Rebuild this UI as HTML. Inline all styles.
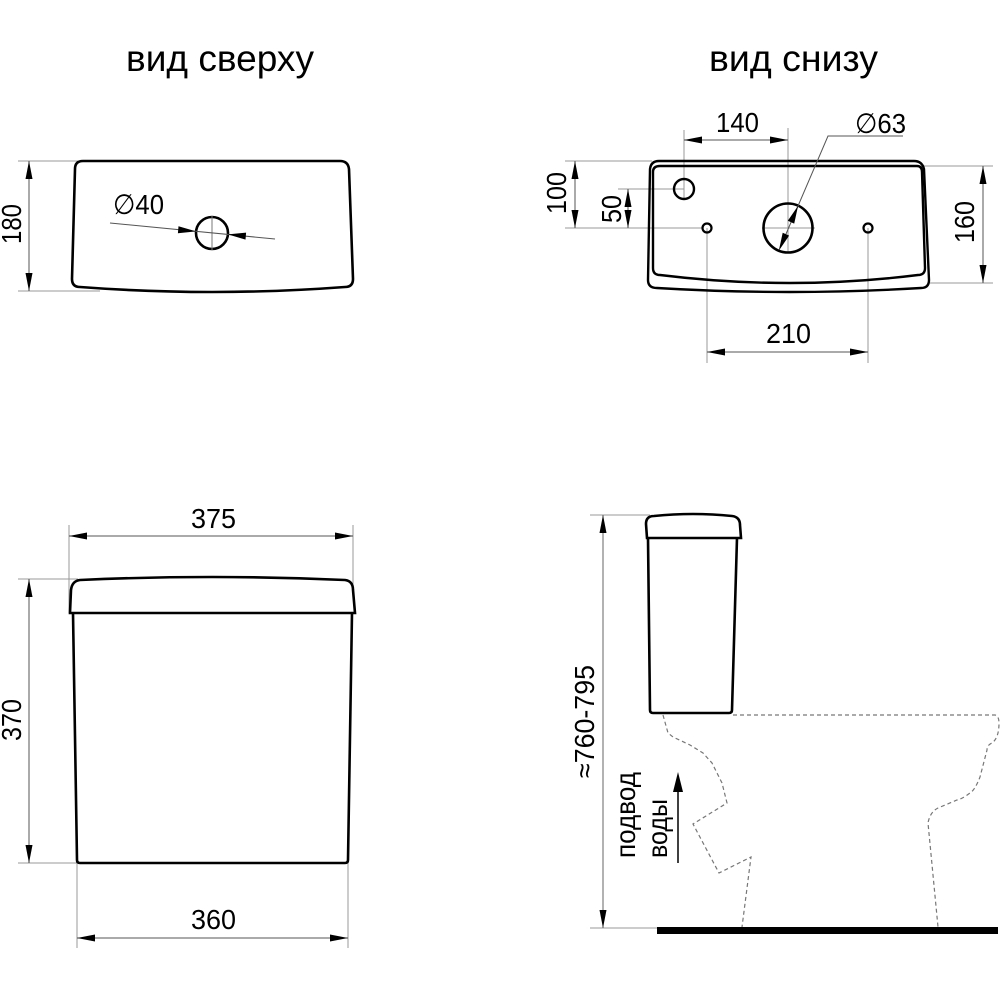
<!DOCTYPE html>
<html>
<head>
<meta charset="utf-8">
<style>
html,body{margin:0;padding:0;background:#fff;}
svg{display:block;}
text{font-family:"Liberation Sans","DejaVu Sans",sans-serif;fill:#000;}
</style>
</head>
<body>
<svg width="1000" height="1000" viewBox="0 0 1000 1000" xmlns="http://www.w3.org/2000/svg">
<rect width="1000" height="1000" fill="#fff"/>

<!-- Titles -->
<text x="126" y="71" font-size="37" textLength="188" lengthAdjust="spacingAndGlyphs">вид сверху</text>
<text x="709" y="71" font-size="37" textLength="169" lengthAdjust="spacingAndGlyphs">вид снизу</text>

<!-- ============ TOP VIEW (left) ============ -->
<g fill="none" stroke="#999" stroke-width="1">
  <line x1="18" y1="161" x2="82" y2="161"/>
  <line x1="18" y1="291" x2="100" y2="291"/>
</g>
<line x1="29" y1="161" x2="29" y2="291" stroke="#555" stroke-width="1"/>
<polygon points="29,161 25.5,179 32.5,179" fill="#000"/>
<polygon points="29,291 25.5,273 32.5,273" fill="#000"/>
<text transform="translate(21,244) rotate(-90)" font-size="28" textLength="40" lengthAdjust="spacingAndGlyphs">180</text>

<path d="M 83 161 L 340 161 Q 348 161 349 169 L 353 279 Q 353 287 345 287 Q 212 297 80 287 Q 72 287 72 279 L 75 169 Q 75 161 83 161 Z" fill="none" stroke="#000" stroke-width="2.6"/>
<circle cx="212" cy="233" r="16" fill="none" stroke="#000" stroke-width="2.6"/>
<line x1="212" y1="216" x2="212" y2="250" stroke="#777" stroke-width="1"/>
<line x1="110" y1="223" x2="275" y2="239" stroke="#555" stroke-width="1"/>
<polygon points="196.1,231.4 177.9,233.2 178.5,226.2" fill="#000"/>
<polygon points="227.9,234.4 245.5,239.6 246.1,232.6" fill="#000"/>
<text x="113" y="214" font-size="28" textLength="51" lengthAdjust="spacingAndGlyphs">∅40</text>

<!-- ============ BOTTOM VIEW (right) ============ -->
<g fill="none" stroke="#999" stroke-width="1">
  <line x1="565" y1="161" x2="652" y2="161"/>
  <line x1="565" y1="228" x2="703" y2="228"/>
  <line x1="618" y1="189" x2="684" y2="189"/>
  <line x1="684" y1="130" x2="684" y2="200"/>
  <line x1="788" y1="128" x2="788" y2="253"/>
  <line x1="762" y1="228" x2="815" y2="228"/>
  <line x1="707" y1="228" x2="707" y2="363"/>
  <line x1="868" y1="228" x2="868" y2="363"/>
  <line x1="923" y1="166" x2="993" y2="166"/>
  <line x1="930" y1="283" x2="993" y2="283"/>
</g>
<path d="M 659 161 L 914 161 Q 922 161 924 169 L 929 280 Q 929 288 921 288 Q 790 296 657 288 Q 648 288 648 280 L 650 169 Q 651 161 659 161 Z" fill="none" stroke="#000" stroke-width="2.4"/>
<path d="M 660 166 L 917 166 Q 922 166 922 172 L 925 268 Q 925 275 918 275 Q 790 291 660 275 Q 653 275 653 268 L 653 172 Q 653 166 660 166 Z" fill="none" stroke="#000" stroke-width="2.4"/>
<circle cx="684" cy="189" r="10" fill="none" stroke="#000" stroke-width="2.4"/>
<circle cx="788" cy="228" r="24.5" fill="none" stroke="#000" stroke-width="2.6"/>
<circle cx="707" cy="228" r="4.5" fill="none" stroke="#000" stroke-width="2.2"/>
<circle cx="868" cy="228" r="4.5" fill="none" stroke="#000" stroke-width="2.2"/>

<g stroke="#555" stroke-width="1" fill="none">
  <line x1="684" y1="140" x2="788" y2="140"/>
  <line x1="707" y1="352" x2="868" y2="352"/>
  <line x1="575" y1="161" x2="575" y2="228"/>
  <line x1="628" y1="189" x2="628" y2="228"/>
  <line x1="983" y1="166" x2="983" y2="283"/>
  <polyline points="780,248 828,136 903,136"/>
</g>
<g fill="#000">
  <polygon points="684,140 702,136.5 702,143.5"/>
  <polygon points="788,140 770,136.5 770,143.5"/>
  <polygon points="707,352 725,348.5 725,355.5"/>
  <polygon points="868,352 850,348.5 850,355.5"/>
  <polygon points="575,161 571.5,179 578.5,179"/>
  <polygon points="575,228 571.5,210 578.5,210"/>
  <polygon points="628,189 624.5,207 631.5,207"/>
  <polygon points="628,228 624.5,210 631.5,210"/>
  <polygon points="983,166 979.5,184 986.5,184"/>
  <polygon points="983,283 979.5,265 986.5,265"/>
  <polygon points="798.1,205.7 794.2,223.6 787.8,220.8"/>
  <polygon points="778.8,250.7 782.7,232.8 789.1,235.6"/>
</g>
<text x="716" y="132" font-size="28" textLength="43" lengthAdjust="spacingAndGlyphs">140</text>
<text x="766" y="343" font-size="28" textLength="45" lengthAdjust="spacingAndGlyphs">210</text>
<text x="855" y="133" font-size="28" textLength="51" lengthAdjust="spacingAndGlyphs">∅63</text>
<text transform="translate(566,214) rotate(-90)" font-size="28" textLength="42" lengthAdjust="spacingAndGlyphs">100</text>
<text transform="translate(621,223) rotate(-90)" font-size="28" textLength="28" lengthAdjust="spacingAndGlyphs">50</text>
<text transform="translate(974,243) rotate(-90)" font-size="28" textLength="42" lengthAdjust="spacingAndGlyphs">160</text>

<!-- ============ FRONT VIEW (lower left) ============ -->
<g fill="none" stroke="#999" stroke-width="1">
  <line x1="69" y1="525" x2="69" y2="613"/>
  <line x1="353" y1="525" x2="353" y2="588"/>
  <line x1="18" y1="579" x2="78" y2="579"/>
  <line x1="18" y1="863" x2="77" y2="863"/>
  <line x1="77" y1="863" x2="77" y2="948"/>
  <line x1="348" y1="863" x2="348" y2="948"/>
</g>
<g stroke="#555" stroke-width="1">
  <line x1="69" y1="536" x2="353" y2="536"/>
  <line x1="29" y1="579" x2="29" y2="863"/>
  <line x1="77" y1="938" x2="348" y2="938"/>
</g>
<g fill="#000">
  <polygon points="69,536 87,532.5 87,539.5"/>
  <polygon points="353,536 335,532.5 335,539.5"/>
  <polygon points="29,579 25.5,597 32.5,597"/>
  <polygon points="29,863 25.5,845 32.5,845"/>
  <polygon points="77,938 95,934.5 95,941.5"/>
  <polygon points="348,938 330,934.5 330,941.5"/>
</g>
<text x="191" y="528" font-size="28" textLength="45" lengthAdjust="spacingAndGlyphs">375</text>
<text x="191" y="929" font-size="28" textLength="45" lengthAdjust="spacingAndGlyphs">360</text>
<text transform="translate(21,741) rotate(-90)" font-size="28" textLength="42" lengthAdjust="spacingAndGlyphs">370</text>

<path d="M 70 613 L 71 590 Q 72 581 80 580 Q 212 574 345 580 Q 353 581 353 590 L 355 613 Z" fill="none" stroke="#000" stroke-width="2.6"/>
<path d="M 73 613 L 77 860 Q 77 863 80 863 L 345 863 Q 348 863 348 860 L 352 613" fill="none" stroke="#000" stroke-width="2.6"/>

<!-- ============ SIDE VIEW (lower right) ============ -->
<g fill="none" stroke="#999" stroke-width="1">
  <line x1="590" y1="515" x2="650" y2="515"/>
  <line x1="590" y1="928" x2="657" y2="928"/>
</g>
<line x1="603" y1="515" x2="603" y2="928" stroke="#666" stroke-width="1"/>
<polygon points="603,515 599.5,533 606.5,533" fill="#000"/>
<polygon points="603,928 599.5,910 606.5,910" fill="#000"/>
<text transform="translate(594,778) rotate(-90)" font-size="28" textLength="113" lengthAdjust="spacingAndGlyphs">≈760-795</text>

<path d="M 647 538 L 646 524 Q 646 516 654 516 Q 693 512 732 516 Q 740 517 740 525 L 741 538 Z" fill="none" stroke="#000" stroke-width="2.6"/>
<path d="M 648 538 L 650 710 Q 650 713 653 713 L 729 713 Q 732 713 732 710 L 737 538" fill="none" stroke="#000" stroke-width="2.6"/>

<g fill="none" stroke="#777" stroke-width="1.2" stroke-dasharray="4 3">
  <polyline points="663,715 668,733 673,737 690,745 703,753 712,763 722,783 727,803 693,824 719,873 751,857 742,927"/>
  <path d="M 733 715 L 995 715 Q 999 716 999 723 Q 999 738 992 743 Q 987 745 987 750 L 980 777 Q 975 790 970 793 Q 962 799 957 800 L 938 808 Q 930 812 928 823 L 938 927"/>
</g>

<rect x="657" y="927" width="341" height="7" fill="#000"/>

<line x1="678" y1="790" x2="678" y2="863" stroke="#000" stroke-width="1.5"/>
<polygon points="678,772 673,792 683,792" fill="#000"/>

<text transform="translate(635,858) rotate(-90)" font-size="28" textLength="86" lengthAdjust="spacingAndGlyphs">подвод</text>
<text transform="translate(667,858) rotate(-90)" font-size="28" textLength="59" lengthAdjust="spacingAndGlyphs">воды</text>

</svg>
</body>
</html>
